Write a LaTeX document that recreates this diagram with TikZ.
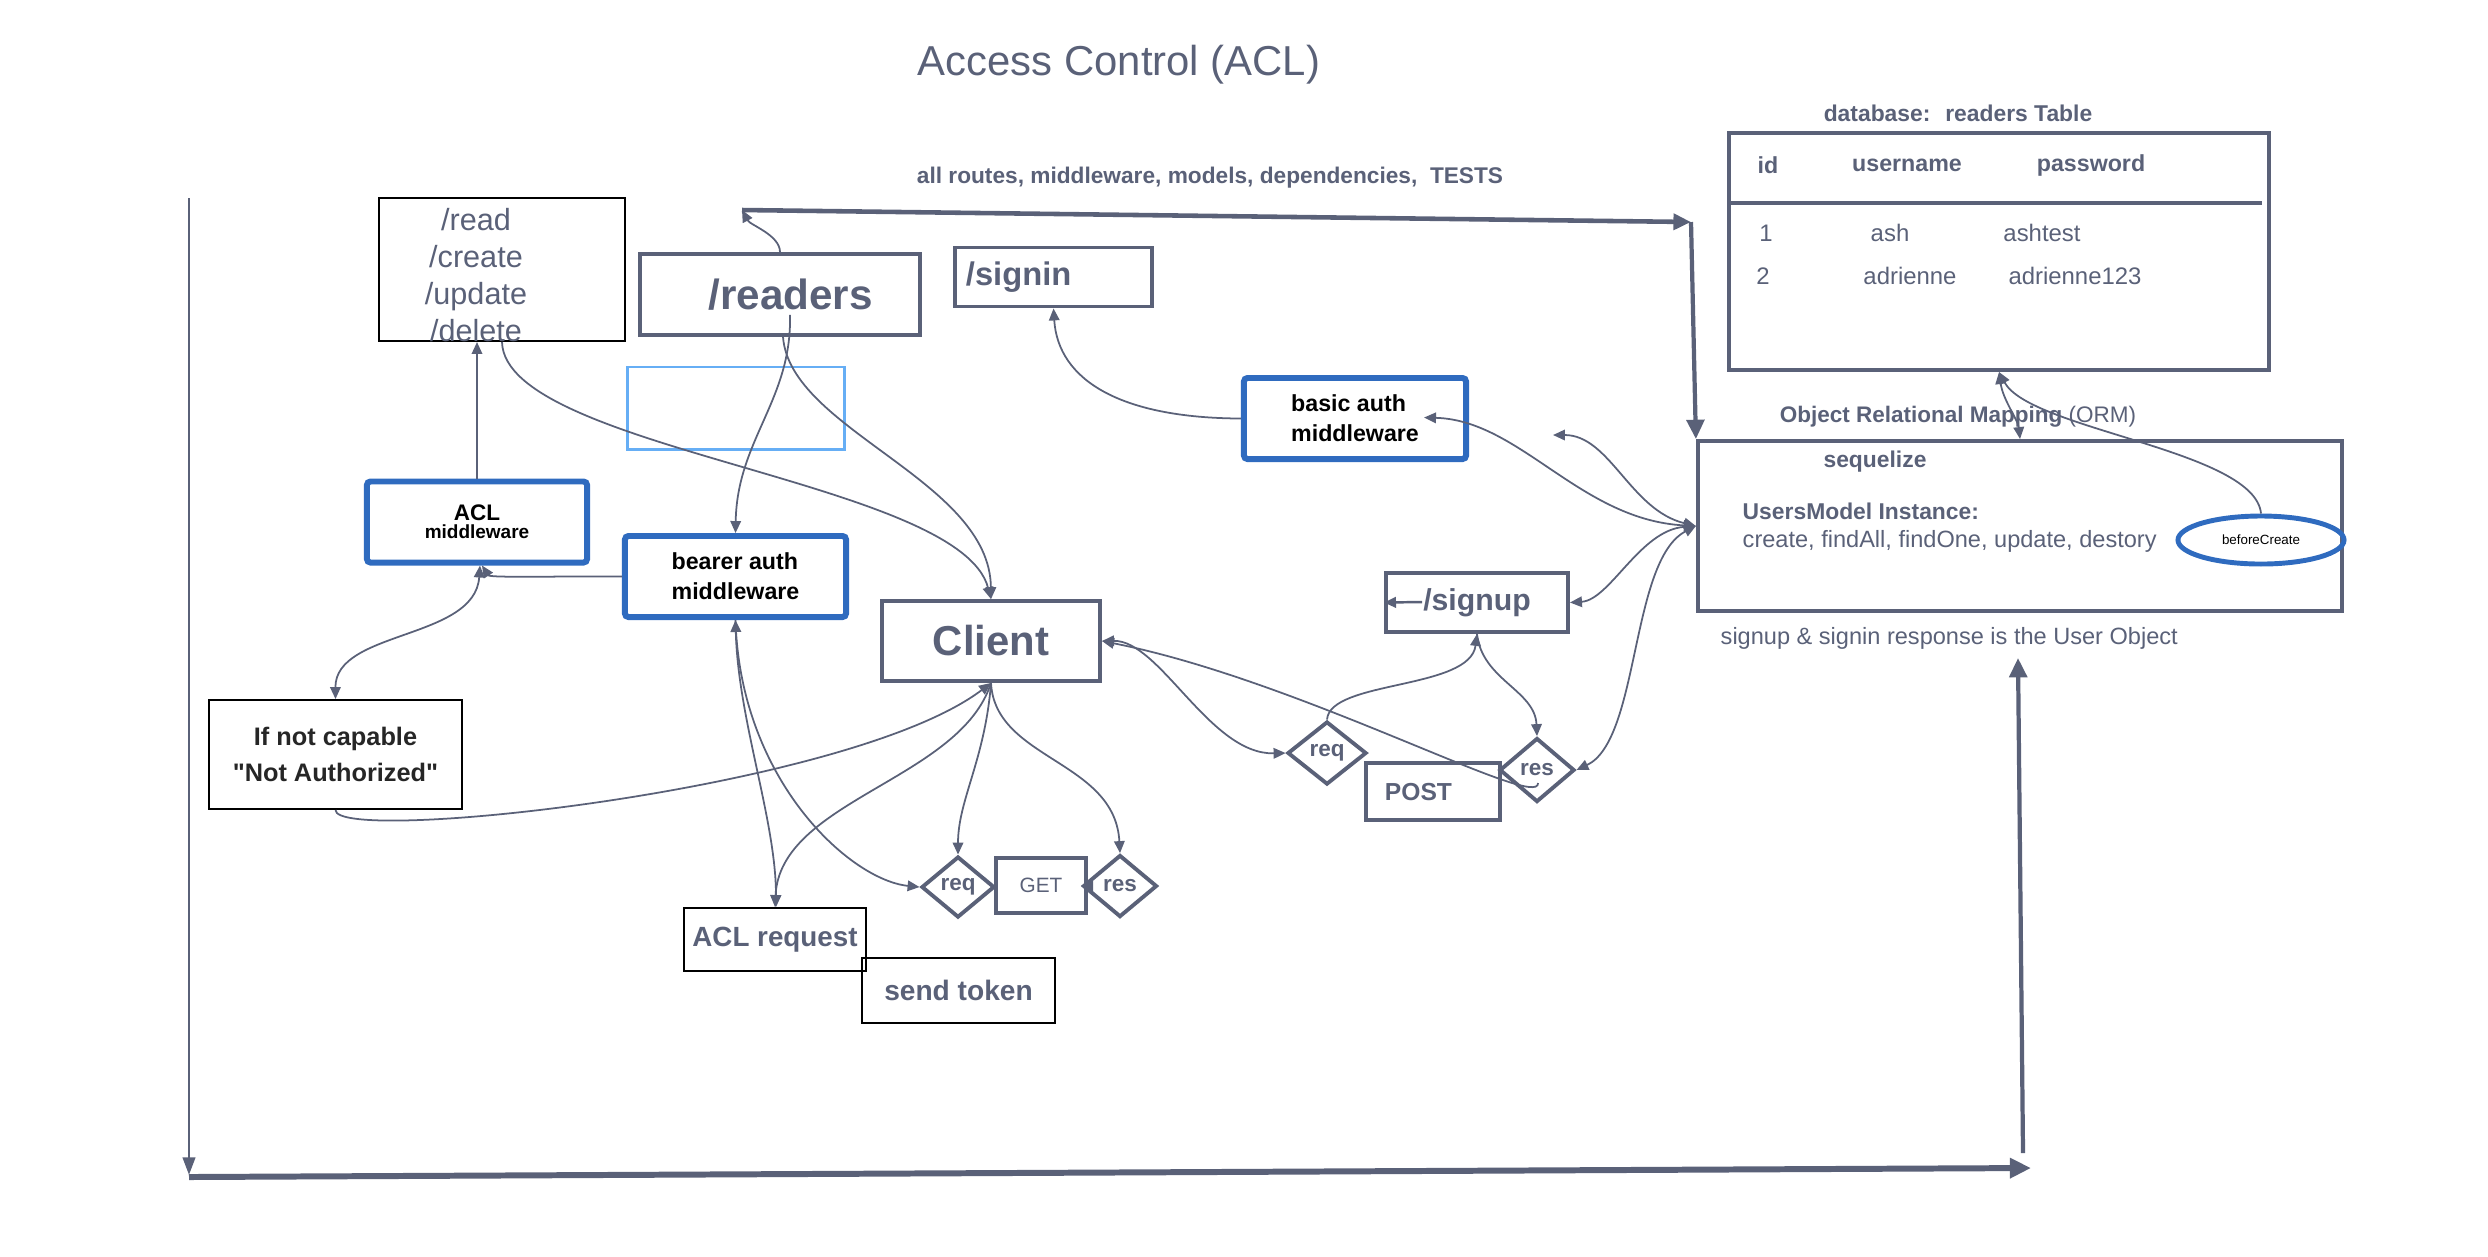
\documentclass[tikz,border=0pt]{standalone}
\usepackage{fontspec}
\setmainfont{Liberation Sans}[Ligatures=TeXOff]
\usetikzlibrary{arrows.meta,shapes.geometric,calc}

\definecolor{slate}{RGB}{90,97,120}
\definecolor{mwblue}{RGB}{47,107,191}
\definecolor{paleblue}{RGB}{102,174,245}

\tikzset{
  routebox/.style={draw=slate, line width=1.1pt, inner sep=0pt, text=slate, font=\bfseries},
  plainbox/.style={draw=black, line width=0.55pt, inner sep=0pt},
  mwbox/.style={draw=mwblue, line width=1.7pt, rounded corners=1pt, inner sep=0pt, text=black,
    font=\fontsize{6.6}{8.5}\selectfont\bfseries, align=left},
  gate/.style={diamond, draw=slate, line width=1.1pt, inner sep=0pt, text=slate,
    font=\fontsize{6.4}{7}\selectfont\bfseries},
  link/.style={draw=slate, line width=0.5pt},
  rimline/.style={draw=slate, line width=1.2pt},
  lbl/.style={text=slate, inner sep=0pt},
}

\begin{document}
\begin{tikzpicture}[x=0.01cm, y=-0.01cm, >={Triangle[length=3.4pt,width=3pt]}]
  \useasboundingbox (0,0) rectangle (2488,1256);

  % headings
  \node [lbl, font=\fontsize{11.9}{14}\selectfont] (title) at (1119,65) {Access Control (ACL)};
  \node [lbl, font=\fontsize{6.45}{8}\selectfont\bfseries] (scope) at (1210,178) {all routes, middleware, models, dependencies, \ TESTS};

  % routes and middleware
  \node [plainbox, minimum width=2.46cm, minimum height=1.43cm] (crud) at (502,269.5) {};
  \node [lbl, align=center, font=\fontsize{8.7}{10.5}\selectfont] (crudtxt) at (476,275) {/read\\/create\\/update\\/delete};
  \node [routebox, minimum height=0.81cm, text width=2.43cm, inner xsep=0.18cm, align=left, font=\fontsize{12}{14}\selectfont\bfseries] (readers) at (780,294.5) {\hspace*{0.5cm}/readers};
  \node [draw=paleblue, line width=0.85pt, minimum width=2.16cm, minimum height=0.82cm, inner sep=0pt] (spare) at (736,408) {};
  \node [routebox, minimum height=0.59cm, text width=1.75cm, inner xsep=0.11cm, align=left, font=\fontsize{9.3}{11}\selectfont\bfseries] (signin) at (1053.5,277) {/signin};
  \node [mwbox, minimum width=2.22cm, minimum height=0.81cm] (basic) at (1355,418.5) {basic auth\\middleware};
  \node [mwbox, minimum width=2.20cm, minimum height=0.81cm, align=center, font=\fontsize{5.4}{4}\selectfont\bfseries] (aclmw) at (477,522) {{\fontsize{6.4}{4}\selectfont ACL}\\[1.2pt]middleware};
  \node [mwbox, minimum width=2.21cm, minimum height=0.81cm] (bearer) at (735.5,576.5) {bearer auth\\middleware};
  \node [routebox, minimum width=2.18cm, minimum height=0.80cm, font=\fontsize{11.9}{14}\selectfont\bfseries] (client) at (991,641) {Client};
  \node [plainbox, minimum width=2.53cm, minimum height=1.09cm, align=center, text=black!85, font=\fontsize{7.2}{10}\selectfont\bfseries] (notauth) at (335.5,754.5) {If not capable\\"Not Authorized"};
  \node [plainbox, minimum width=1.82cm, minimum height=0.63cm, text=slate, font=\fontsize{7.9}{9}\selectfont\bfseries] (aclreq) at (775,939.5) {ACL request};
  \node [plainbox, minimum width=1.93cm, minimum height=0.65cm, text=slate, font=\fontsize{8}{9}\selectfont\bfseries] (token) at (958.5,990.5) {send token};

  % GET exchange
  \node [gate, minimum width=0.73cm, minimum height=0.61cm] (getreq) at (958,887) {req};
  \node [routebox, minimum width=0.90cm, minimum height=0.55cm, font=\fontsize{5.9}{7}\selectfont] (get) at (1041,885.5) {GET};
  \node [gate, minimum width=0.74cm, minimum height=0.62cm] (getres) at (1120,886) {res};

  % POST exchange
  \node [gate, minimum width=0.79cm, minimum height=0.63cm] (postreq) at (1327,753) {req};
  \node [routebox, minimum height=0.57cm, text width=0.96cm, inner xsep=0.19cm, align=left, font=\fontsize{7}{8}\selectfont\bfseries] (post) at (1433,791.5) {POST};
  \node [gate, minimum width=0.75cm, minimum height=0.64cm] (postres) at (1537,770) {res};
  \node [routebox, minimum width=1.82cm, minimum height=0.59cm, font=\fontsize{8.6}{10}\selectfont\bfseries] (signup) at (1477,602.5) {/signup};

  % database table
  \node [routebox, minimum width=5.40cm, minimum height=2.37cm] (db) at (1999,251.5) {};
  \node [lbl, font=\fontsize{6.5}{8}\selectfont\bfseries] (dbtitle) at (1958,113) {database: \ readers Table};
  \draw [rimline, line width=1pt] (1729,203) -- (2262,203);
  \node [lbl, font=\fontsize{6.6}{8}\selectfont\bfseries] (hid) at (1768,165) {id};
  \node [lbl, font=\fontsize{6.6}{8}\selectfont\bfseries] (huser) at (1907,165) {username};
  \node [lbl, font=\fontsize{6.6}{8}\selectfont\bfseries] (hpass) at (2091,165) {password};
  \node [lbl, font=\fontsize{6.8}{8}\selectfont] (rowaid) at (1766,233) {1};
  \node [lbl, font=\fontsize{6.8}{8}\selectfont] (rowauser) at (1890,233) {ash};
  \node [lbl, font=\fontsize{6.8}{8}\selectfont] (rowapass) at (2042,233) {ashtest};
  \node [lbl, font=\fontsize{6.8}{8}\selectfont] (rowbid) at (1763,276) {2};
  \node [lbl, font=\fontsize{6.8}{8}\selectfont] (rowbuser) at (1910,276) {adrienne};
  \node [lbl, font=\fontsize{6.8}{8}\selectfont] (rowbpass) at (2075,276) {adrienne123};

  % sequelize
  \node [lbl, font=\fontsize{6.4}{8}\selectfont] (orm) at (1958,417) {\textbf{Object Relational Mapping} (ORM)};
  \node [routebox, minimum width=6.44cm, minimum height=1.70cm] (seq) at (2020,526) {};
  \node [lbl, font=\fontsize{6.5}{8}\selectfont\bfseries] (seqname) at (1875,462) {sequelize};
  \node [lbl, anchor=west, font=\fontsize{6.5}{8}\selectfont\bfseries] (model) at (1742,511) {UsersModel Instance:};
  \node [lbl, anchor=west, font=\fontsize{6.7}{8}\selectfont] (methods) at (1742,541) {create, findAll, findOne, update, destory};
  \node [ellipse, draw=mwblue, line width=1.4pt, minimum width=1.66cm, minimum height=0.48cm, inner sep=0pt, font=\fontsize{3.8}{4.5}\selectfont] (hook) at (2261,540) {beforeCreate};
  \node [lbl, anchor=west, font=\fontsize{6.7}{8}\selectfont] (resp) at (1720,638) {signup \& signin response is the User Object};

  % outer lines
  \coordinate (ftop) at (189,198);
  \coordinate (fleft) at (189,1175);
  \coordinate (fcorner) at (189,1177);
  \coordinate (fend) at (2031,1168);
  \coordinate (rbot) at (2023,1153);
  \coordinate (rtop) at (2018,658);
  \coordinate (topl) at (742,210);
  \coordinate (topr) at (1691,222);
  \draw [rimline, line width=0.85pt, -{Triangle[length=5pt,width=3.5pt]}] (ftop) -- (fleft);
  \draw [rimline, line width=1.7pt, -{Triangle[length=6pt,width=5.5pt]}] (fcorner) -- (fend);
  \draw [rimline, -{Triangle[length=5.5pt,width=5pt]}] (rbot) -- (rtop);
  \draw [rimline, line width=1.3pt, -{Triangle[length=5pt,width=4.5pt]}] (topl) -- (topr);
  \draw [rimline, -{Triangle[length=5.5pt,width=5pt]}] (topr) -- (seq.north west);

  % left side
  \draw [link, ->] (readers.north) .. controls (780,235) and (750,225) .. (topl);
  \draw [link, ->] ($(readers.south)+(10,-22)$) .. controls (792,400) and (737,440) .. (bearer.north);
  \draw [link, ->] ($(readers.south)+(3,0)$) .. controls (790,430) and (990,480) .. (client.north);
  \draw [link, ->] (crud.south) .. controls (505,450) and (960,480) .. (client.north);
  \draw [link, ->] (aclmw.north) -- (aclmw.north |- crud.south);
  \draw [link, ->] (bearer.west) .. controls (560,576) and (490,578) .. ($(aclmw.south)+(5,0)$);
  \draw [link, <->] ($(aclmw.south)+(3,0)$) .. controls (475,640) and (335,630) .. (notauth.north);
  \draw [link, ->] (notauth.south) .. controls (335,845) and (850,790) .. (client.south);
  \draw [link, ->] (client.south) .. controls (960,780) and (780,800) .. (aclreq.north);
  \draw [link, <->] (bearer.south) .. controls (738,720) and (776,820) .. ($(aclreq.north)+(1,0)$);
  \draw [link, ->] (bearer.south) .. controls (740,780) and (850,880) .. (getreq.west);
  \draw [link, ->] (client.south) .. controls (985,760) and (958,800) .. (getreq.north);
  \draw [link, ->] (client.south) .. controls (995,760) and (1115,760) .. (getres.north);
  \draw [link, ->] ($(getres.west)+(10,0)$) -- (getres.west);

  % right side
  \draw [link, <->] (client.east) .. controls (1160,640) and (1210,755) .. (postreq.west);
  \draw [link, ->] ($(postres.center)+(1,13)$) .. controls (1540,812) and (1300,680) .. (client.east);
  \draw [link, ->] (postreq.north) .. controls (1330,680) and (1470,690) .. (signup.south);
  \draw [link, ->] (signup.south) .. controls (1482,680) and (1535,690) .. (postres.north);
  \coordinate (suptail) at (1422,602);
  \draw [link, line width=0.7pt, ->] (suptail) -- (signup.west);
  \draw [link, <->] ($(basic.east)+(-45,-1)$) .. controls (1520,420) and (1580,520) .. (seq.west);
  \coordinate (loose) at (1553,435);
  \draw [link, <->] (loose) .. controls (1610,435) and (1630,510) .. (seq.west);
  \draw [link, <->] (signup.east) .. controls (1610,600) and (1640,530) .. (seq.west);
  \draw [link, <->] (postres.east) .. controls (1640,740) and (1630,560) .. (seq.west);
  \draw [link, ->] (basic.west) .. controls (1120,418) and (1058,380) .. (signin.south);
  \draw [link, <->] (db.south) .. controls (2003,400) and (2018,420) .. (seq.north);
  \draw [link, ->] (hook.north) .. controls (2255,450) and (2030,430) .. (db.south);
\end{tikzpicture}
\end{document}
